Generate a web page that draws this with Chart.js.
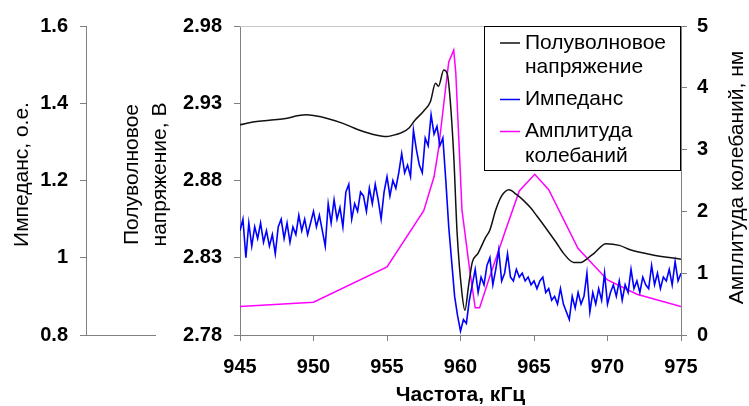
<!DOCTYPE html>
<html lang="ru">
<head>
    <meta charset="UTF-8">
    <title>Резонанс</title>
    <script src="https://cdn.jsdelivr.net/npm/chart.js"></script>
    <style>
        body { margin: 0; background: #fff; }
        #grafico { display: block; }
    </style>
</head>
<body>
    <canvas id="grafico" width="749" height="406"></canvas>

<script>
    /* Полуволновое напряжение, В */
    let voltFreq = [945, 946, 947, 948, 949, 949.5, 950, 951, 952, 953, 954, 955, 955.3, 956, 956.5, 956.9,
        957.5, 957.95, 958.3, 958.5, 958.86, 959.1, 959.3, 959.54, 959.77, 960.1, 960.3, 960.55, 960.8,
        961.2, 961.7, 962.0, 962.4, 962.8, 963.3, 963.8, 964.3, 964.8, 965.2, 965.9, 966.5, 967.0, 967.7,
        968.2, 968.7, 969.1, 969.9, 970.8, 971.6, 973, 975];
    let voltValues = [2.916, 2.918, 2.919, 2.920, 2.922, 2.9225, 2.922, 2.920, 2.917, 2.913, 2.910, 2.9085, 2.909, 2.911, 2.914, 2.919,
        2.925, 2.931, 2.943, 2.941, 2.9515, 2.949, 2.932, 2.896, 2.846, 2.807, 2.796, 2.812, 2.827,
        2.833, 2.843, 2.848, 2.861, 2.870, 2.874, 2.871, 2.867, 2.862, 2.857, 2.848, 2.840, 2.833, 2.827,
        2.827, 2.830, 2.833, 2.839, 2.838, 2.835, 2.832, 2.829];

    /* Импеданс, о.е. - one value every 0.2 kHz from 945 */
    let impFreqStart = 945;
    let impFreqStep = 0.2;
    let impValues = [
        1.07, 1.10, 1.00, 1.09, 1.03,  1.08, 1.05, 1.09, 1.04, 1.07,
        1.03, 1.06, 1.01, 1.08, 1.10,  1.05, 1.09, 1.04, 1.08, 1.06,
        1.11, 1.07, 1.10, 1.06, 1.09,  1.12, 1.08, 1.11, 1.07, 1.03,
        1.14, 1.09, 1.15, 1.10, 1.13,  1.08, 1.17, 1.19, 1.10, 1.14,
        1.12, 1.17, 1.16, 1.12, 1.18,  1.14, 1.19, 1.15, 1.10, 1.17,
        1.21, 1.16, 1.20, 1.18, 1.22,  1.27, 1.22, 1.24, 1.21, 1.33,
        1.28, 1.24, 1.22, 1.31, 1.29,  1.37, 1.32, 1.34, 1.29, 1.31,
        1.20, 1.08, 0.99, 0.90, 0.85,  0.81, 0.84, 0.83, 0.89, 0.93,
        0.97, 0.91, 0.95, 0.93, 0.98,  1.00, 0.93, 0.97, 1.02, 0.94,
        0.96, 1.01, 0.95, 0.94, 0.97,  0.95, 0.96, 0.94, 0.95, 0.93,
        0.94, 0.92, 0.94, 0.95, 0.91,  0.92, 0.89, 0.90, 0.88, 0.92,
        0.88, 0.86, 0.84, 0.90, 0.87,  0.91, 0.88, 0.90, 0.96, 0.86,
        0.91, 0.88, 0.92, 0.89, 0.96,  0.88, 0.91, 0.93, 0.90, 0.94,
        0.89, 0.93, 0.91, 0.97, 0.92,  0.94, 0.91, 0.95, 0.93, 0.92,
        0.98, 0.93, 0.96, 0.92, 0.95,  0.94, 0.97, 0.93, 0.99, 0.94,
        0.96];

    /* Амплитуда колебаний, нм */
    let ampFreq = [945, 950, 955, 957.5, 958.2, 958.5, 958.97, 959.2, 959.54, 959.68, 960.0, 960.1, 960.6,
        961.0, 961.3, 962.0, 963.0, 964.0, 965.05, 966.0, 968.0, 970.0, 972.0, 975];
    let ampValues = [0.46, 0.53, 1.10, 2.01, 2.56, 3.0, 3.96, 4.42, 4.61, 4.24, 2.56, 2.02, 1.10,
        0.44, 0.44, 0.95, 1.65, 2.33, 2.60, 2.35, 1.40, 0.89, 0.66, 0.46];

    let freqTicks = [945, 950, 955, 960, 965, 970, 975];
    let impTicks = [0.8, 1, 1.2, 1.4, 1.6];
    let voltTicks = [2.78, 2.83, 2.88, 2.93, 2.98];
    let ampTicks = [0, 1, 2, 3, 4, 5];

    Chart.defaults.font.family = "'Liberation Sans', Arial, sans-serif";
    Chart.defaults.font.size = 21;
    Chart.defaults.color = '#000';

    let axisColor = '#808080';
    let tickFont = { size: 20, weight: 'bold' };

    function toPoints(xs, ys) {
        return ys.map(function(v, i) { return {x: xs[i], y: v}; });
    }

    function setTicks(list) {
        return function(scale) {
            scale.ticks = list.map(function(v) { return {value: v}; });
        };
    }

    function yAxis(pos, weight, list, width, pad) {
        return {
            position: pos,
            weight: weight,
            min: list[0],
            max: list[list.length - 1],
            afterBuildTicks: setTicks(list),
            afterFit: function(scale) { scale.width = width; },
            ticks: { padding: pad, font: tickFont, callback: function(v) { return String(+v.toFixed(2)); } },
            grid: { drawOnChartArea: false, tickLength: 6, color: axisColor },
            border: { color: axisColor }
        };
    }

    function rotatedText(ctx, lines, x, y, step) {
        ctx.save();
        ctx.translate(x, y);
        ctx.rotate(-Math.PI / 2);
        ctx.textAlign = 'center';
        ctx.textBaseline = 'middle';
        lines.forEach(function(t, k) { ctx.fillText(t, 0, k * step); });
        ctx.restore();
    }

    // axis titles, legend box and small leftover lines
    let extras = {
        id: 'extras',
        afterDraw: function(chart) {
            let ctx = chart.ctx;
            let a = chart.chartArea;
            let imp = chart.scales.yImp;
            ctx.save();

            ctx.lineWidth = 1;
            ctx.strokeStyle = '#c8c8c8';
            ctx.beginPath();
            ctx.moveTo(a.left, a.top + 0.5);
            ctx.lineTo(a.right, a.top + 0.5);
            ctx.stroke();

            ctx.strokeStyle = axisColor;
            ctx.beginPath();
            ctx.moveTo(imp.right - 6, a.bottom + 0.5);
            ctx.lineTo(imp.right + 70, a.bottom + 0.5);
            ctx.stroke();

            ctx.fillStyle = '#000';
            ctx.font = "21px 'Liberation Sans', Arial, sans-serif";
            let mid = (a.top + a.bottom) / 2;
            rotatedText(ctx, ['Импеданс, о.е.'], 22, mid - 6, 0);
            rotatedText(ctx, ['Полуволновое', 'напряжение, В'], 132, mid - 6, 28);
            rotatedText(ctx, ['Амплитуда колебаний, нм'], 737, mid - 3, 0);

            // legend
            let bx = 484, by = a.top, bw = a.right - 484, bh = 145;
            ctx.fillStyle = '#fff';
            ctx.fillRect(bx, by, bw, bh);
            ctx.strokeStyle = '#000';
            ctx.strokeRect(bx + 0.5, by + 0.5, bw - 1, bh - 1);
            let y = by + 17;
            ctx.textAlign = 'left';
            ctx.textBaseline = 'middle';
            chart.data.datasets.forEach(function(ds) {
                ctx.strokeStyle = ds.borderColor;
                ctx.lineWidth = 1.5;
                ctx.beginPath();
                ctx.moveTo(bx + 16, y);
                ctx.lineTo(bx + 36, y);
                ctx.stroke();
                ctx.fillStyle = '#000';
                let words = ds.label.split(' ');
                words.forEach(function(w, k) {
                    ctx.fillText(w, bx + 41, y + k * 24.5);
                });
                y += (words.length - 1) * 24.5 + 32;
            });
            ctx.restore();
        }
    };

    new Chart(document.getElementById('grafico'), {
        type: 'line',
        data: {
            datasets: [
                {
                    label: 'Полуволновое напряжение',
                    data: toPoints(voltFreq, voltValues),
                    yAxisID: 'yVolt',
                    borderColor: '#111',
                    borderWidth: 1.5,
                    pointRadius: 0,
                    cubicInterpolationMode: 'monotone'
                },
                {
                    label: 'Импеданс',
                    data: impValues.map(function(v, i) { return {x: impFreqStart + i * impFreqStep, y: v}; }),
                    yAxisID: 'yImp',
                    borderColor: '#0000ff',
                    borderWidth: 1.6,
                    pointRadius: 0,
                    tension: 0
                },
                {
                    label: 'Амплитуда колебаний',
                    data: toPoints(ampFreq, ampValues),
                    yAxisID: 'yAmp',
                    borderColor: '#ff00ff',
                    borderWidth: 1.5,
                    pointRadius: 0,
                    tension: 0
                }
            ]
        },
        options: {
            responsive: false,
            animation: false,
            devicePixelRatio: 1,
            layout: { padding: { top: 26, left: 0, right: 0, bottom: 0 } },
            plugins: { legend: { display: false }, tooltip: { enabled: false } },
            scales: {
                x: {
                    type: 'linear',
                    min: 945,
                    max: 975,
                    afterBuildTicks: setTicks(freqTicks),
                    afterFit: function(scale) { scale.height = 71; },
                    ticks: { padding: 14, maxRotation: 0, font: tickFont },
                    grid: { drawOnChartArea: false, tickLength: 6, color: axisColor },
                    border: { color: axisColor },
                    title: { display: true, text: 'Частота, кГц', font: { size: 21, weight: 'bold' }, padding: { top: 0, bottom: -2 } }
                },
                yImp: yAxis('left', 2, impTicks, 86, 12),
                yVolt: yAxis('left', 1, voltTicks, 154, 12),
                yAmp: yAxis('right', 1, ampTicks, 68, 10)
            }
        },
        plugins: [extras]
    });
</script>
</body>
</html>
